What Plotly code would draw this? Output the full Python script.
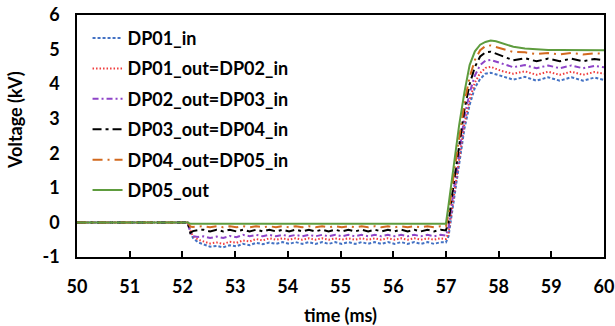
import plotly.graph_objects as go

# shared time axis (ms)
time_ms = [50.0, 52.10,
           52.15, 52.20, 52.30,
           52.40, 52.525, 52.65, 52.775, 52.90, 53.025, 53.15, 53.275, 53.40, 53.525,
           53.65, 53.775, 53.90, 54.025, 54.15, 54.275, 54.40, 54.525, 54.65, 54.775,
           54.90, 55.025, 55.15, 55.275, 55.40, 55.525, 55.65, 55.775, 55.90, 56.025,
           56.15, 56.275, 56.40, 56.525, 56.65, 56.775, 56.90, 57.00,
           57.05, 57.15, 57.25, 57.35, 57.45, 57.55, 57.65, 57.75, 57.85, 57.95, 58.06,
           58.28, 58.50, 58.72, 58.94, 59.16, 59.38, 59.60, 59.82, 60.00]

dp01_in = [0, 0,
           -0.25, -0.45, -0.58,
           -0.64, -0.70, -0.68, -0.72, -0.66, -0.69, -0.62, -0.66, -0.59, -0.63,
           -0.58, -0.62, -0.57, -0.62, -0.57, -0.62, -0.57, -0.62, -0.57, -0.62,
           -0.57, -0.62, -0.57, -0.62, -0.57, -0.62, -0.57, -0.62, -0.57, -0.62,
           -0.57, -0.62, -0.57, -0.62, -0.57, -0.62, -0.57, -0.58,
           -0.40, 0.60, 1.70, 2.70, 3.40, 3.90, 4.15, 4.30, 4.33, 4.28, 4.22,
           4.13, 4.21, 4.10, 4.20, 4.10, 4.20, 4.10, 4.19, 4.12]

dp01_out = [0, 0,
            -0.22, -0.40, -0.50,
            -0.55, -0.61, -0.58, -0.62, -0.56, -0.59, -0.52, -0.55, -0.48, -0.52,
            -0.46, -0.50, -0.46, -0.50, -0.46, -0.50, -0.46, -0.50, -0.46, -0.50,
            -0.46, -0.50, -0.46, -0.50, -0.46, -0.50, -0.46, -0.50, -0.46, -0.50,
            -0.46, -0.50, -0.46, -0.50, -0.46, -0.50, -0.46, -0.48,
            -0.30, 0.75, 1.85, 2.85, 3.55, 4.05, 4.32, 4.47, 4.50, 4.45, 4.38,
            4.30, 4.37, 4.27, 4.36, 4.27, 4.36, 4.27, 4.35, 4.30]

dp02_out = [0, 0,
            -0.30, -0.40, -0.42,
            -0.40, -0.45, -0.41, -0.45, -0.39, -0.43, -0.36, -0.40, -0.36, -0.40,
            -0.36, -0.40, -0.36, -0.40, -0.36, -0.40, -0.36, -0.40, -0.36, -0.40,
            -0.36, -0.40, -0.36, -0.40, -0.36, -0.40, -0.36, -0.40, -0.36, -0.40,
            -0.36, -0.40, -0.36, -0.40, -0.36, -0.40, -0.36, -0.38,
            -0.15, 0.95, 2.05, 3.05, 3.75, 4.25, 4.55, 4.68, 4.70, 4.65, 4.58,
            4.49, 4.55, 4.46, 4.54, 4.46, 4.54, 4.46, 4.53, 4.49]

dp03_out = [0, 0,
            -0.30, -0.25, -0.22,
            -0.21, -0.26, -0.21, -0.26, -0.21, -0.26, -0.21, -0.26, -0.21, -0.26,
            -0.21, -0.26, -0.21, -0.26, -0.21, -0.26, -0.21, -0.26, -0.21, -0.26,
            -0.21, -0.26, -0.21, -0.26, -0.21, -0.26, -0.21, -0.26, -0.21, -0.26,
            -0.21, -0.26, -0.21, -0.26, -0.21, -0.26, -0.21, -0.23,
            0.00, 1.15, 2.25, 3.25, 4.00, 4.50, 4.80, 4.92, 4.94, 4.88, 4.80,
            4.69, 4.75, 4.66, 4.74, 4.66, 4.74, 4.66, 4.73, 4.69]

dp04_out = [0, 0,
            -0.12, -0.13, -0.12,
            -0.11, -0.14, -0.11, -0.14, -0.11, -0.14, -0.11, -0.14, -0.11, -0.14,
            -0.11, -0.14, -0.11, -0.14, -0.11, -0.14, -0.11, -0.14, -0.11, -0.14,
            -0.11, -0.14, -0.11, -0.14, -0.11, -0.14, -0.11, -0.14, -0.11, -0.14,
            -0.11, -0.14, -0.11, -0.14, -0.11, -0.14, -0.11, -0.12,
            0.25, 1.40, 2.50, 3.45, 4.20, 4.70, 4.98, 5.10, 5.12, 5.08, 5.02,
            4.93, 4.92, 4.87, 4.90, 4.86, 4.90, 4.86, 4.89, 4.88]

dp05_out = [0, 0,
            -0.04, -0.04, -0.04,
            -0.04, -0.04, -0.04, -0.04, -0.04, -0.04, -0.04, -0.04, -0.04, -0.04,
            -0.04, -0.04, -0.04, -0.04, -0.04, -0.04, -0.04, -0.04, -0.04, -0.04,
            -0.04, -0.04, -0.04, -0.04, -0.04, -0.04, -0.04, -0.04, -0.04, -0.04,
            -0.04, -0.04, -0.04, -0.04, -0.04, -0.04, -0.04, -0.04,
            0.50, 1.70, 2.80, 3.75, 4.55, 4.95, 5.14, 5.22, 5.26, 5.24, 5.18,
            5.08, 5.03, 5.00, 4.99, 4.99, 4.99, 4.98, 4.98, 4.98]

names = ["DP01_in", "DP01_out=DP02_in", "DP02_out=DP03_in",
         "DP03_out=DP04_in", "DP04_out=DP05_in", "DP05_out"]
series = [dp01_in, dp01_out, dp02_out, dp03_out, dp04_out, dp05_out]
colors = ["#4472C4", "#F03C3C", "#8E44C8", "#000000", "#D2691E", "#5E9C3E"]
dashes = ["3px,2px", "1.5px,2px", "6px,3px,2px,3px", "9px,4px,3px,4px",
          "10px,5px,2px,5px", "solid"]
widths = [2, 2, 2, 2, 2, 2]

x_ticks = [50, 51, 52, 53, 54, 55, 56, 57, 58, 59, 60]
y_ticks = [-1, 0, 1, 2, 3, 4, 5, 6]
y_ticktext = ["-1", "0", "1", "2", "3", "4", "5", "6"]

FONT = "Lato"
W = "bold"

fig = go.Figure()
for nm, ys, c, d, w in zip(names, series, colors, dashes, widths):
    fig.add_trace(go.Scatter(
        x=time_ms, y=ys, name=nm, mode="lines", legendgroup=nm,
        line=dict(color=c, dash=d, width=w, shape="linear"),
    ))

fig.update_layout(
    width=615, height=326,
    margin=dict(l=77, r=11, t=15, b=69),
    paper_bgcolor="white", plot_bgcolor="white",
    font=dict(family=FONT, size=18, color="black", weight=W),
    showlegend=True,
    legend=dict(x=0.02, y=0.98, xanchor="left", yanchor="top",
                bgcolor="rgba(255,255,255,0)", font=dict(size=18, family=FONT, weight=W),
                tracegroupgap=4, itemwidth=30),
    xaxis=dict(range=[50, 60], tickvals=x_ticks, ticks="inside", ticklen=6,
               tickwidth=1.5, tickcolor="black", showline=True, linecolor="black",
               linewidth=1.5, mirror=True, showgrid=False, zeroline=False,
               ticklabelstandoff=13, automargin=False,
               title=dict(text="time (ms)", standoff=23,
                          font=dict(size=18, family=FONT, weight=W))),
    yaxis=dict(range=[-1, 6], tickvals=y_ticks, ticktext=y_ticktext, ticks="",
               showline=True, linecolor="black", linewidth=1.5, mirror=True,
               showgrid=False, zeroline=False, ticklabelstandoff=12,
               automargin=False),
    annotations=[dict(text="Voltage (kV)", x=0, y=0, xref="paper", yref="paper",
                      showarrow=False, textangle=-90,
                      font=dict(size=18, family=FONT, weight=W))],
)
ann = fig.layout.annotations[0]
ann.x = (15 - 77) / (615 - 77 - 11)
ann.y = (326 - 69 - 120) / (326 - 15 - 69)
ann.xanchor = "center"
ann.yanchor = "middle"

fig.write_html("out.html", config={"displayModeBar": False},
               post_script="document.body.style.margin='0px';")
